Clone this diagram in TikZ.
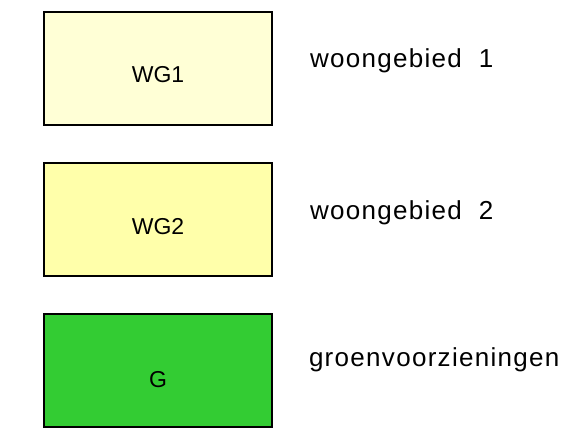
\documentclass[tikz,border=0pt]{standalone}
\usepackage{fontspec}
\setmainfont{Liberation Sans}
\usepackage{xcolor}
\usepackage{tikz}
\usetikzlibrary{positioning}

\definecolor{wgone}{HTML}{FFFFD6}
\definecolor{wgtwo}{HTML}{FFFFAA}
\definecolor{groen}{HTML}{33CC33}

\begin{document}
\begin{tikzpicture}[x=1pt, y=1pt, every node/.style={inner sep=0pt, outer sep=0pt},
    zone/.style={rectangle, draw=black, line width=1.4pt, minimum width=228pt, minimum height=113pt},
    zonetext/.style={font=\fontsize{23}{27}\selectfont},
    legend/.style={font=\fontsize{26}{31}\selectfont\addfontfeatures{LetterSpace=5}, anchor=west}]
            \useasboundingbox (0,0) rectangle (576,-430);
            \node[zone, fill=wgone] (wg1) at (158,-68.5) {};
            \node[zone, fill=wgtwo, below=38pt of wg1] (wg2) {};
            \node[zone, fill=groen, below=38pt of wg2] (g) {};

            \node[zonetext, yshift=-6pt] (t1) at (wg1) {WG1};
            \node[zonetext, yshift=-7pt] (t2) at (wg2) {WG2};
            \node[zonetext, yshift=-9pt] (t3) at (g) {G};

            \node[legend, right=38pt of wg1, yshift=8pt] (l1) {woongebied\ \ 1};
            \node[legend, right=38pt of wg2, yshift=7pt] (l2) {woongebied\ \ 2};
            \node[legend, right=37pt of g, yshift=11pt] (l3) {groenvoorzieningen};
        \end{tikzpicture}
\end{document}
